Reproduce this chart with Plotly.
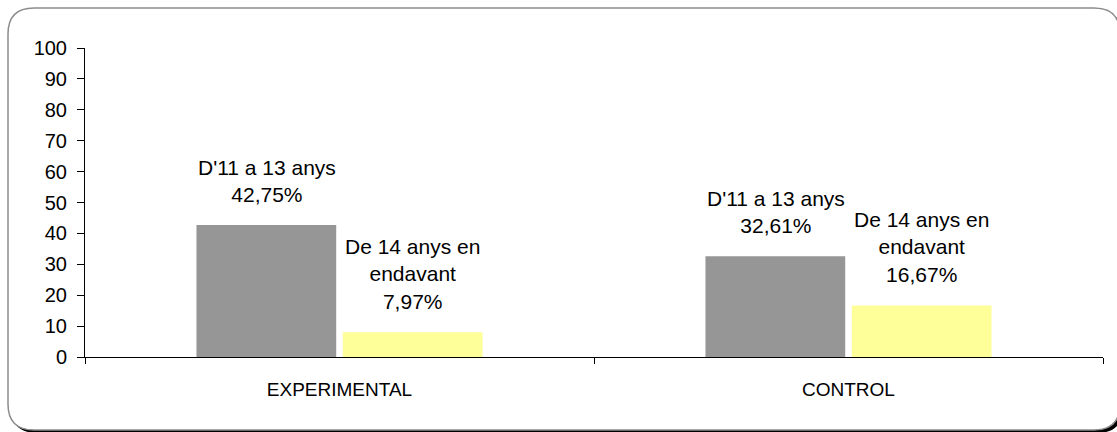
import plotly.graph_objects as go

# Age groups by study group (percent of respondents)
categories = ["EXPERIMENTAL", "CONTROL"]
series_names = ["D'11 a 13 anys", "De 14 anys en<br>endavant"]
values_11_13 = [42.75, 32.61]
values_14_plus = [7.97, 16.67]
y_ticks = list(range(0, 101, 10))

W, H = 1117, 432
M_L, M_R, M_T, M_B = 85, 14, 48, 75
PW, PH = W - M_L - M_R, H - M_T - M_B

FONT = "Liberation Sans, Arial, sans-serif"
GRAY = "#969696"
YELLOW = "#FFFF99"


def fmt_pct(v):
    return f"{v:.2f}".replace(".", ",") + "%"


def px_x(px):
    return (px - M_L) / PW


def px_y(py):
    return (H - M_B - py) / PH


def rounded_rect(x0, y0, x1, y1, r):
    """SVG path (paper coords) of a rounded rectangle given in pixels."""
    def p(x, y):
        return f"{px_x(x):.5f},{px_y(y):.5f}"
    return (
        f"M {p(x0 + r, y0)} L {p(x1 - r, y0)} Q {p(x1, y0)} {p(x1, y0 + r)} "
        f"L {p(x1, y1 - r)} Q {p(x1, y1)} {p(x1 - r, y1)} "
        f"L {p(x0 + r, y1)} Q {p(x0, y1)} {p(x0, y1 - r)} "
        f"L {p(x0, y0 + r)} Q {p(x0, y0)} {p(x0 + r, y0)} Z"
    )


fig = go.Figure()
fig.add_trace(go.Bar(x=categories, y=values_11_13, name=series_names[0],
                     marker=dict(color=GRAY, line=dict(width=0))))
fig.add_trace(go.Bar(x=categories, y=values_14_plus, name=series_names[1],
                     marker=dict(color=YELLOW, line=dict(width=0))))

# Value labels above each bar
annotations = []
for vals, name, shift in [(values_11_13, series_names[0], -73),
                          (values_14_plus, series_names[1], 73)]:
    for cat, v in zip(categories, vals):
        annotations.append(dict(
            x=cat, y=v, xref="x", yref="y", xshift=shift, yshift=17,
            yanchor="bottom", xanchor="center", showarrow=False,
            text=f"{name}<br>{fmt_pct(v)}",
            font=dict(family=FONT, size=21, color="black"), align="center"))

# Chart frame: drop shadow and rounded border
shapes = [
    dict(type="path", xref="paper", yref="paper", layer="below",
         path=rounded_rect(11, 11, 1123, 433, 26),
         fillcolor="black", line=dict(width=0)),
    dict(type="path", xref="paper", yref="paper", layer="below",
         path=rounded_rect(8, 8, 1120, 430, 26),
         fillcolor="white", line=dict(color="#8c8c8c", width=1.5)),
]

fig.update_layout(
    width=W, height=H,
    margin=dict(l=M_L, r=M_R, t=M_T, b=M_B),
    paper_bgcolor="white", plot_bgcolor="rgba(0,0,0,0)",
    barmode="group", bargap=0.425, bargroupgap=0.045,
    showlegend=False,
    font=dict(family=FONT, size=20, color="black"),
    annotations=annotations, shapes=shapes,
    xaxis=dict(showline=True, linecolor="black", linewidth=1,
               ticks="outside", tickson="boundaries", ticklen=6,
               tickcolor="black", showgrid=False, zeroline=False,
               tickfont=dict(family=FONT, size=19), ticklabelstandoff=15),
    yaxis=dict(range=[0, 100], tickvals=y_ticks, showline=True,
               linecolor="black", linewidth=1, ticks="outside", ticklen=7,
               tickcolor="black", showgrid=False, zeroline=False,
               tickfont=dict(family=FONT, size=20), ticklabelstandoff=6),
)

fig.write_html("out.html")
